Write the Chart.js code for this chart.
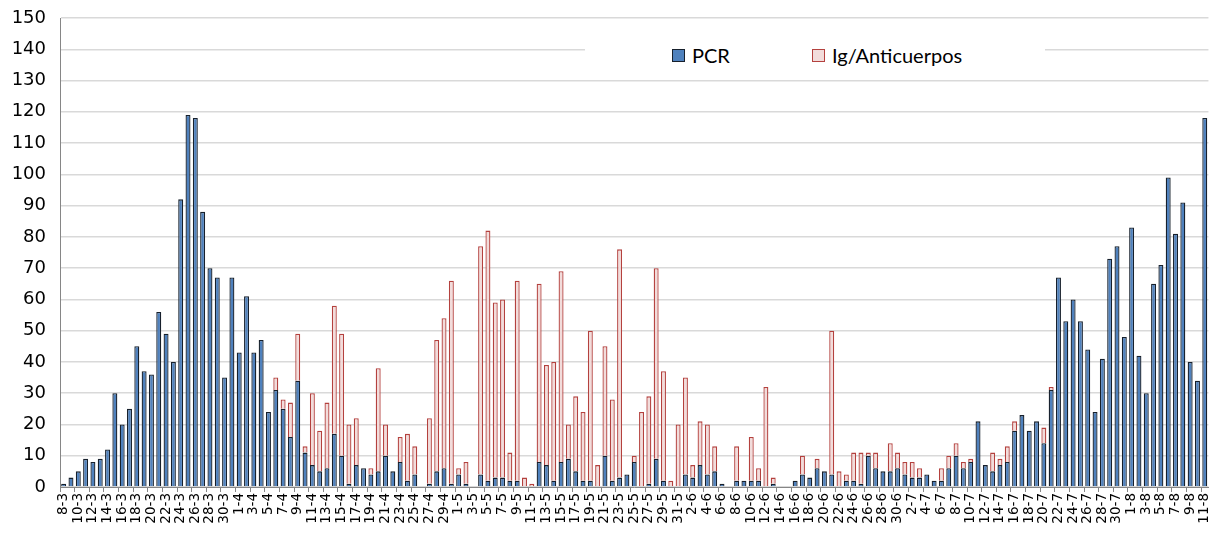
<!DOCTYPE html>
<html>
<head>
<meta charset="utf-8">
<script src="https://cdn.jsdelivr.net/npm/chart.js@4/dist/chart.umd.min.js"></script>
<style>
    body { margin: 0; background: #fff; }
    #wrap { position: relative; width: 1222px; height: 535px; }
    #legend { position: absolute; left: 585px; top: 26px; width: 460px; height: 52px; background: #fff; font-family: Lato, "Liberation Sans", sans-serif; font-size: 20px; color: #000; }
    .item { position: absolute; top: 16px; display: flex; align-items: center; height: 26px; }
    .box { width: 11px; height: 11px; margin-right: 7px; }
</style>
</head>
<body>
<div id="wrap">
    <canvas id="myChart" width="1222" height="535"></canvas>
    <div id="legend">
        <div class="item" style="left:87px"><span class="box" style="background:#4f81bd;border:1px solid #17202c"></span>PCR</div>
        <div class="item" style="left:227px"><span class="box" style="background:#f2dcdb;border:1px solid #b4413e"></span>Ig/Anticuerpos</div>
    </div>
</div>
<script>
const dates = [
    "8-3","9-3","10-3","11-3","12-3","13-3","14-3","15-3","16-3","17-3","18-3","19-3","20-3","21-3","22-3","23-3","24-3","25-3","26-3","27-3","28-3","29-3","30-3","31-3",
    "1-4","2-4","3-4","4-4","5-4","6-4","7-4","8-4","9-4","10-4","11-4","12-4","13-4","14-4","15-4","16-4","17-4","18-4","19-4","20-4","21-4","22-4","23-4","24-4","25-4","26-4","27-4","28-4","29-4","30-4",
    "1-5","2-5","3-5","4-5","5-5","6-5","7-5","8-5","9-5","10-5","11-5","12-5","13-5","14-5","15-5","16-5","17-5","18-5","19-5","20-5","21-5","22-5","23-5","24-5","25-5","26-5","27-5","28-5","29-5","30-5","31-5",
    "1-6","2-6","3-6","4-6","5-6","6-6","7-6","8-6","9-6","10-6","11-6","12-6","13-6","14-6","15-6","16-6","17-6","18-6","19-6","20-6","21-6","22-6","23-6","24-6","25-6","26-6","27-6","28-6","29-6","30-6",
    "1-7","2-7","3-7","4-7","5-7","6-7","7-7","8-7","9-7","10-7","11-7","12-7","13-7","14-7","15-7","16-7","17-7","18-7","19-7","20-7","21-7","22-7","23-7","24-7","25-7","26-7","27-7","28-7","29-7","30-7","31-7",
    "1-8","2-8","3-8","4-8","5-8","6-8","7-8","8-8","9-8","10-8","11-8"
];

const pcr = [
    1,3,5,9,8,9,12,30,20,25,45,37,36,56,49,40,92,119,118,88,70,67,35,67,
    43,61,43,47,24,31,25,16,34,11,7,5,6,17,10,1,7,6,4,5,10,5,8,2,4,0,1,5,6,1,
    4,1,0,4,2,3,3,2,2,0,0,8,7,2,8,9,5,2,2,0,10,2,3,4,8,0,1,9,2,0,0,
    4,3,7,4,5,1,0,2,2,2,2,0,1,0,0,2,4,3,6,5,4,0,2,2,1,10,6,5,5,6,
    4,3,3,4,2,2,6,10,6,8,21,7,5,7,8,18,23,18,21,14,31,67,53,60,53,44,24,41,73,77,48,
    83,42,30,65,71,99,81,91,40,34,118
];

const ig = [
    0,0,0,0,0,0,0,0,0,0,0,0,0,0,0,0,0,0,0,0,0,0,0,0,
    0,0,0,0,0,4,3,11,15,2,23,13,21,41,39,19,15,0,2,33,10,0,8,15,9,0,21,42,48,65,
    2,7,0,73,80,56,57,9,64,3,1,57,32,38,61,11,24,22,48,7,35,26,73,0,2,24,28,61,35,2,20,
    31,4,14,16,8,0,0,11,0,14,4,32,2,0,0,0,6,0,3,0,46,5,2,9,10,1,5,0,9,5,
    4,5,3,0,0,4,4,4,2,1,0,0,6,2,5,3,0,0,0,5,1,0,0,0,0,0,0,0,0,0,0,
    0,0,0,0,0,0,0,0,0,0,0
];

const yMax = 150;
const yStep = 10;

const ctx = document.getElementById('myChart').getContext('2d');
new Chart(ctx, {
    type: 'bar',
    data: {
        labels: dates,
        datasets: [
            {
                label: 'PCR',
                data: pcr,
                backgroundColor: '#4f81bd',
                borderColor: '#17202c',
                borderWidth: 1.3,
                barPercentage: 0.68,
                categoryPercentage: 1,
            },
            {
                label: 'Ig/Anticuerpos',
                data: ig,
                backgroundColor: '#f2dcdb',
                borderColor: '#b4413e',
                borderWidth: 1.3,
                barPercentage: 0.68,
                categoryPercentage: 1,
            },
        ],
    },
    options: {
        responsive: false,
        animation: false,
        layout: { padding: { top: 18, right: 7, left: 0, bottom: 0 } },
        plugins: {
            legend: { display: false },
            tooltip: { enabled: false },
        },
        scales: {
            x: {
                stacked: true,
                grid: {
                    offset: true,
                    drawOnChartArea: false,
                    tickLength: 5,
                    color: c => (c.index % 2 === 0 ? '#868686' : 'rgba(0,0,0,0)'),
                },
                border: { color: '#868686', width: 1 },
                ticks: {
                    autoSkip: false,
                    minRotation: 90,
                    maxRotation: 90,
                    padding: 1,
                    color: '#000',
                    font: { family: 'DejaVu Sans', size: 13.5 },
                    callback: (v, i) => (i % 2 === 0 ? dates[i] : ''),
                },
                afterFit: s => { s.height = 48; },
            },
            y: {
                stacked: true,
                min: 0,
                max: yMax,
                grid: { color: '#d9d9d9', lineWidth: 1.5, drawTicks: true, tickLength: 10, tickColor: 'rgba(0,0,0,0)' },
                border: { color: '#868686', width: 1 },
                ticks: {
                    stepSize: yStep,
                    padding: 4,
                    color: '#000',
                    font: { family: 'DejaVu Sans', size: 18 },
                },
                afterFit: s => { s.width = 60; },
            },
        },
    },
});
</script>
</body>
</html>
